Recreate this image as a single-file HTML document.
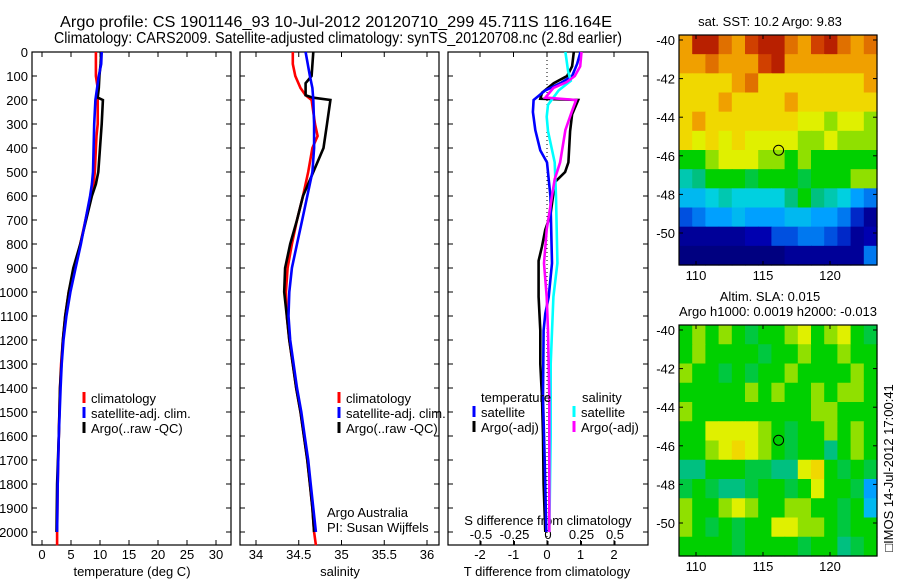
<!DOCTYPE html>
<html><head><meta charset="utf-8"><style>
html,body{margin:0;padding:0;background:#fff;}
svg{display:block;font-family:"Liberation Sans",sans-serif;}
</style></head><body>
<svg id="fig" width="900" height="580" viewBox="0 0 900 580" xmlns="http://www.w3.org/2000/svg">
<rect width="900" height="580" fill="#fff"/>
<text x="336" y="27" font-size="16" text-anchor="middle" textLength="552" lengthAdjust="spacingAndGlyphs">Argo profile: CS 1901146_93 10-Jul-2012 20120710_299 45.711S 116.164E</text>
<text x="338" y="43" font-size="16" text-anchor="middle" textLength="568" lengthAdjust="spacingAndGlyphs">Climatology: CARS2009. Satellite-adjusted climatology: synTS_20120708.nc (2.8d earlier)</text>
<g id="g1"></g>
<g id="g2"></g>
<g id="g3"></g>
<g id="m1"></g>
<g id="m2"></g>
<text transform="translate(893,468) rotate(-90)" font-size="13" text-anchor="middle">□IMOS 14-Jul-2012 17:00:41</text>
</svg>
<script>
// ---- profile data (depth in m) ----
const tClimDepth=[0,50,100,150,200,300,350,400,500,550,600,700,800,900,1000,1100,1200,1300,1400,1600,1800,2000,2055];
const tClimVal=[9.3,9.3,9.3,9.6,9.6,9.6,9.4,9.3,9.1,8.9,8.4,7.5,6.6,5.6,4.6,4.0,3.6,3.3,3.1,2.9,2.7,2.6,2.6];
const tSatDepth=[0,50,100,200,300,400,500,550,600,700,800,900,1000,1100,1200,1300,1400,1600,1800,2000];
const tSatVal=[10.3,10.2,9.8,9.2,9.0,8.9,8.8,8.6,8.3,7.5,6.7,5.8,4.9,4.2,3.7,3.4,3.2,2.9,2.7,2.6];
const tArgoDepth=[0,50,100,150,190,200,300,400,500,550,600,700,800,900,1000,1100,1200,1400,1600,1800,2000];
const tArgoVal=[10.2,10.1,9.9,9.8,9.6,10.5,10.3,10.0,9.7,9.3,8.6,7.6,6.6,5.4,4.6,4.0,3.6,3.1,2.9,2.6,2.5];

const sClimDepth=[0,50,100,150,180,200,300,350,400,500,600,700,800,900,1000,1100,1200,1300,1400,1500,1600,1700,1800,1900,2000,2055];
const sClimVal=[34.43,34.43,34.46,34.52,34.58,34.65,34.69,34.72,34.66,34.61,34.55,34.48,34.42,34.37,34.35,34.36,34.39,34.43,34.47,34.52,34.56,34.60,34.63,34.66,34.68,34.70];
const sSatDepth=[0,100,150,200,300,400,500,600,700,800,900,1000,1100,1200,1300,1400,1500,1600,1700,1800,1900,2000];
const sSatVal=[34.58,34.63,34.66,34.67,34.68,34.68,34.66,34.60,34.54,34.48,34.42,34.39,34.38,34.40,34.44,34.48,34.53,34.57,34.61,34.64,34.67,34.70];
const sArgoDepth=[0,100,130,180,190,200,300,400,500,600,700,800,900,1000,1100,1200,1300,1400,1500,1600,1700,1800,1900,2000];
const sArgoVal=[34.67,34.65,34.58,34.58,34.66,34.87,34.83,34.79,34.67,34.55,34.48,34.40,34.34,34.33,34.36,34.39,34.43,34.47,34.52,34.56,34.60,34.63,34.66,34.68];

const dTSatDepth=[0,50,100,130,160,200,250,325,410,460,600,880,1020,1090,1160,1440,1700,2000];
const dTSatVal=[1.0,0.9,0.75,0.4,-0.05,-0.4,-0.42,-0.35,-0.2,0,0.1,0.15,0.05,-0.05,-0.1,-0.12,-0.07,-0.02];
const dTArgoDepth=[0,60,100,130,170,195,200,260,330,460,500,540,580,680,740,810,870,1020,1160,1300,1440,1600,1800,2000];
const dTArgoVal=[0.8,0.75,0.6,0.2,-0.15,-0.2,0.93,0.75,0.69,0.64,0.54,0.25,0.2,0.1,-0.05,-0.15,-0.25,-0.25,-0.2,-0.2,-0.15,-0.12,-0.1,-0.05];
const dSSatDepth=[0,80,120,160,220,270,330,460,600,880,1020,1300,1600,2000];
const dSSatVal=[0.13,0.15,0.17,0.08,0.0,-0.01,0.0,0.05,0.06,0.07,0.04,0.02,0.02,0.01];
const dSArgoDepth=[0,60,100,125,150,190,200,260,325,460,530,600,740,880,1020,1160,1440,2000];
const dSArgoVal=[0.25,0.24,0.2,0.14,0.04,-0.02,0.21,0.17,0.13,0.09,0.05,0.03,-0.01,-0.03,-0.01,0.0,0.01,0.01];

const depthTicks=[0,100,200,300,400,500,600,700,800,900,1000,1100,1200,1300,1400,1500,1600,1700,1800,1900,2000];
const tempTicks=[0,5,10,15,20,25,30];
const salTicks=[34,34.5,35,35.5,36];
const salTickLabels=["34","34.5","35","35.5","36"];
const dTTicks=[-2,-1,0,1,2];
const dSTicks=[-0.5,-0.25,0,0.25,0.5];
const dSTickLabels=["-0.5","-0.25","0","0.25","0.5"];

// ---- map data (colour index 0..10), rows north->south, cols west->east ----
const sstGrid=[
[8,9.5,9.5,8.5,8,9,9.5,9.5,8.5,8,9,9.5,8.5,8,8.5],
[8,8,8.5,8,8,8,9,9.5,8,8,8,8,8,8,8],
[7.5,7.5,7.5,7.5,8,8.5,7.5,7.5,7.5,7.5,7.5,7.5,7.5,7.5,8],
[7.5,7.5,7.5,8,7.5,7.5,7.5,7.5,8,7.5,7.5,7.5,7.5,7.5,7.5],
[7.5,8,7.5,7.5,7.5,7.5,7.5,7.5,7.5,7,7,6.5,7,7,6.5],
[7.5,7,7.5,7,7.5,7,7,7,7,6.5,6.5,7,6.5,6.5,6.5],
[6,6,6.5,7,7,7,6.5,6.5,6,6.5,6,6,6,6,6],
[4.5,5,6,6,6,5.5,6,6,6,5.5,6,6,6,6.5,6.5],
[3.5,3.5,4,4.5,4,4,4,4,5,6,5,4.5,4,3,2.5],
[2,2.5,3,3,3.5,3,3,3,3.5,3.5,3,3,2.5,1.5,0.5],
[0.5,0.5,0.5,0.5,0.5,1,1,2,2,2.5,2.5,2,1.5,0.5,1],
[0,0,0,0,0,0,0,0,0.5,0.5,0.5,0.5,0.5,0.5,2.5]];
const slaGrid=[
[6,6.5,6,6.5,6,5.5,6,6,6.5,7,6,6.5,7,6,5.5],
[6,6.5,6,6,6,6,5.5,6,6,6.5,6,6,6.5,6,6],
[6.5,6,6,5.5,6,5.5,6,6,6.5,6,6,6,6,6.5,6],
[6,6,6,6,6,6.5,6,6.5,6,6,6.5,6,6.5,6.5,6],
[6.5,6,6,6,6,6,6,6,6,6,6.5,6.5,6,6,6],
[6,6,7,7,7,7,6.5,6,5.5,6,6,6.5,6,6.5,6],
[6,6,6.5,7,7.5,7,6.5,6,5.5,6,6,5,6,6.5,6],
[5,5,6,6,6,5.5,5.5,5,5,7,7.5,6,5.5,6,5.5],
[5.5,6,5.5,5,5,5.5,6,6,5.5,6,7,6,6,5.5,3],
[6.5,6,6,6.5,7,6.5,6,6,6.5,6.5,6,6,5.5,6,3.5],
[6.5,6,5.5,6,5.5,6,6,7,7,6.5,6.5,6,5.5,6,6],
[6,6,6,6,5.5,6,6,6,6,5.5,6,6,5,5.5,6]];
const lonTicks=[110,115,120];
const latTicks=[-40,-42,-44,-46,-48,-50];
const argoLon=116.164, argoLat=-45.711;

const NS="http://www.w3.org/2000/svg";
function mk(parent,tag,attrs){const e=document.createElementNS(NS,tag);for(const k in attrs)e.setAttribute(k,attrs[k]);parent.appendChild(e);return e;}
function txt(parent,x,y,s,anchor,size){const t=mk(parent,'text',{x:x,y:y,'font-size':size||13,'text-anchor':anchor||'start'});t.textContent=s;return t;}

const Y0=52, PB=545, dScale=0.24;
const yD=d=>Y0+d*dScale;

function panelFrame(g,x0,x1,name,showDepth){
  const r=mk(g,'rect',{x:x0,y:Y0,width:x1-x0,height:PB-Y0,fill:'none',stroke:'#000','stroke-width':1.2});
  
  
  depthTicks.forEach(d=>{
    mk(g,'line',{x1:x0,y1:yD(d),x2:x0+5,y2:yD(d),stroke:'#000'});
    mk(g,'line',{x1:x1,y1:yD(d),x2:x1-5,y2:yD(d),stroke:'#000'});
    if(showDepth){const t=txt(g,x0-4,yD(d)+5,String(d),'end');
      
      }
  });
}
function line(g,xf,dep,val,color,name){
  const pts=dep.map((d,i)=>xf(val[i]).toFixed(1)+','+yD(d).toFixed(1)).join(' ');
  const p=mk(g,'polyline',{points:pts,fill:'none',stroke:color,'stroke-width':2.6,'stroke-linejoin':'miter'});
  
  
}
function legend(g,x,y,color,label){
  mk(g,'line',{x1:x,y1:y-11,x2:x,y2:y,stroke:color,'stroke-width':3});
  const t=txt(g,x+7,y,label,'start',13);
  
  
}

// Panel 1: temperature
(function(){
  const g=document.getElementById('g1'), x0=32,x1=231;
  const xT=v=>42+v*5.8;
  panelFrame(g,x0,x1,'temperature',true);
  tempTicks.forEach(v=>{
    mk(g,'line',{x1:xT(v),y1:PB,x2:xT(v),y2:PB-5,stroke:'#000'});
    mk(g,'line',{x1:xT(v),y1:Y0,x2:xT(v),y2:Y0+5,stroke:'#000'});
    const t=txt(g,xT(v),559,String(v),'middle');
    
    
  });
  const at=txt(g,132,576,'temperature (deg C)','middle');
  
  
  line(g,xT,tClimDepth,tClimVal,'#f00','temp-climatology-line');
  line(g,xT,tArgoDepth,tArgoVal,'#000','temp-argo-line');
  line(g,xT,tSatDepth,tSatVal,'#00f','temp-satellite-line');
  legend(g,84,403,'#f00','climatology');
  legend(g,84,418,'#00f','satellite-adj. clim.');
  legend(g,84,433,'#000','Argo(..raw -QC)');
})();

// Panel 2: salinity
(function(){
  const g=document.getElementById('g2'), x0=240,x1=439;
  const xS=v=>256+(v-34)*85.5;
  panelFrame(g,x0,x1,'salinity',false);
  salTicks.forEach((v,i)=>{
    mk(g,'line',{x1:xS(v),y1:PB,x2:xS(v),y2:PB-5,stroke:'#000'});
    mk(g,'line',{x1:xS(v),y1:Y0,x2:xS(v),y2:Y0+5,stroke:'#000'});
    const t=txt(g,xS(v),559,salTickLabels[i],'middle');
    
    
  });
  const at=txt(g,340,576,'salinity','middle');
  
  
  line(g,xS,sClimDepth,sClimVal,'#f00','sal-climatology-line');
  line(g,xS,sArgoDepth,sArgoVal,'#000','sal-argo-line');
  line(g,xS,sSatDepth,sSatVal,'#00f','sal-satellite-line');
  legend(g,339,403,'#f00','climatology');
  legend(g,339,418,'#00f','satellite-adj. clim.');
  legend(g,339,433,'#000','Argo(..raw -QC)');
  const a=txt(g,327,517,'Argo Australia');
  const b=txt(g,327,532,'PI: Susan Wijffels');
})();

// Panel 3: differences
(function(){
  const g=document.getElementById('g3'), x0=448,x1=648;
  const xT=v=>547+v*33.5, xS=v=>548+v*134;
  panelFrame(g,x0,x1,'difference',false);
  mk(g,'line',{x1:xT(0),y1:Y0,x2:xT(0),y2:PB,stroke:'#000','stroke-dasharray':'1,3'});
  dTTicks.forEach(v=>{
    mk(g,'line',{x1:xT(v),y1:PB,x2:xT(v),y2:PB-5,stroke:'#000'});
    mk(g,'line',{x1:xT(v),y1:Y0,x2:xT(v),y2:Y0+5,stroke:'#000'});
    const t=txt(g,xT(v),559,String(v),'middle');
    
    
  });
  dSTicks.forEach((v,i)=>{
    mk(g,'line',{x1:xS(v),y1:PB,x2:xS(v),y2:PB-4,stroke:'#000'});
    const t=txt(g,xS(v),539,dSTickLabels[i],'middle');
    
    
  });
  const st=txt(g,548,525,'S difference from climatology','middle');
  
  const tt=txt(g,547,576,'T difference from climatology','middle');
  
  line(g,xT,dTArgoDepth,dTArgoVal,'#000','t-diff-argo-line');
  line(g,xT,dTSatDepth,dTSatVal,'#00f','t-diff-satellite-line');
  line(g,xS,dSSatDepth,dSSatVal,'#0ff','s-diff-satellite-line');
  line(g,xS,dSArgoDepth,dSArgoVal,'#f0f','s-diff-argo-line');
  const h1=txt(g,481,402,'temperature');
  const h2=txt(g,582,402,'salinity');
  legend(g,474,417,'#00f','satellite');
  legend(g,474,432,'#000','Argo(-adj)');
  legend(g,574,417,'#0ff','satellite');
  legend(g,574,432,'#f0f','Argo(-adj)');
})();

// Maps
const stops=[[0,[0,0,128]],[1,[0,0,176]],[2,[0,80,224]],[3,[0,160,255]],[4,[0,208,224]],[5,[0,192,128]],[6,[0,208,0]],[6.5,[144,224,0]],[7,[224,240,0]],[7.5,[240,216,0]],[8,[240,160,0]],[9,[208,64,0]],[10,[160,0,0]]];
function cmap(v){
  for(let i=0;i<stops.length-1;i++){const a=stops[i],b=stops[i+1];
    if(v<=b[0]){const f=(v-a[0])/(b[0]-a[0]);const c=a[1].map((x,k)=>Math.round(x+(b[1][k]-x)*f));return 'rgb('+c.join(',')+')';}}
  return 'rgb(160,0,0)';
}
function drawMap(id,grid,mx0,my0,mx1,my1,latAt40,name){
  const g=document.getElementById(id);
  const lonX=lon=>696+(lon-110)*13.4;
  const latY=lat=>latAt40+(-40-lat)*19.3;
  const rows=grid.length, cols=grid[0].length;
  const cw=(mx1-mx0)/cols, ch=(my1-my0)/rows;
  grid.forEach((row,r)=>row.forEach((v,c)=>{
    const e=mk(g,'rect',{x:(mx0+c*cw).toFixed(2),y:(my0+r*ch).toFixed(2),width:(cw+0.6).toFixed(2),height:(ch+0.6).toFixed(2),fill:cmap(v)});
    
    
  }));
  mk(g,'rect',{x:mx0,y:my0,width:mx1-mx0,height:my1-my0,fill:'none',stroke:'#000','stroke-width':1.2});
  lonTicks.forEach(l=>{
    mk(g,'line',{x1:lonX(l),y1:my0,x2:lonX(l),y2:my0+4,stroke:'#000'});
    mk(g,'line',{x1:lonX(l),y1:my1,x2:lonX(l),y2:my1-4,stroke:'#000'});
    const t=txt(g,lonX(l),my1+15,String(l),'middle');
    
  });
  latTicks.forEach(l=>{
    mk(g,'line',{x1:mx0,y1:latY(l),x2:mx0+4,y2:latY(l),stroke:'#000'});
    mk(g,'line',{x1:mx1,y1:latY(l),x2:mx1-4,y2:latY(l),stroke:'#000'});
    const t=txt(g,mx0-4,latY(l)+5,String(l),'end');
    
  });
  const c=mk(g,'circle',{cx:lonX(argoLon),cy:latY(argoLat),r:5,fill:'none',stroke:'#000','stroke-width':1});
  
  
}
drawMap('m1',sstGrid,679,35,877,265,40,'sst-map');
drawMap('m2',slaGrid,679,325,877,556,330,'sla-map');
(function(){
  const g=document.getElementById('m1');
  const t=txt(g,770,26,'sat. SST: 10.2 Argo: 9.83','middle');
  
  const g2=document.getElementById('m2');
  const a=txt(g2,770,301,'Altim. SLA: 0.015','middle');
  
  const b=txt(g2,778,316,'Argo h1000: 0.0019 h2000: -0.013','middle');
  
})();
</script>
</body></html>
